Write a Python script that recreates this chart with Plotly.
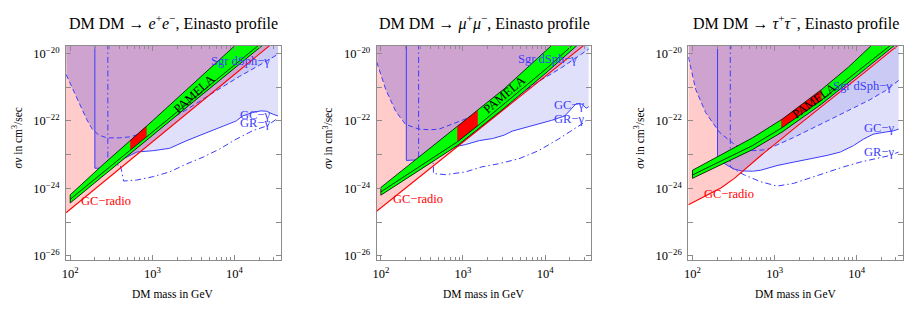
import numpy as np
import plotly.graph_objects as go

# ---------------- axis ranges (log10 units) ----------------
X_RANGE = [1.949, 4.564]          # DM mass, log10(GeV)
Y_RANGE = [-26.12, -19.78]        # log10(sigma v / cm^3 s^-1)
Y_CEIL = -19.3                    # everything above the frame is clipped

# ---------------- data (log10 GeV, log10 cm^3/s) ----------------
# --- DM DM -> e+ e- ---
E_RADIO_M = [1.949, 3.0, 4.44]
E_RADIO_SV = [-24.72, -22.62, -19.74]
E_BAND_UP_M = [2.0, 2.41, 3.0, 3.5, 4.0]
E_BAND_UP_SV = [-24.19, -23.27, -22.0, -20.9, -19.78]
E_BAND_MID_M = [2.0, 2.41, 3.0, 3.5, 4.28]
E_BAND_MID_SV = [-24.32, -23.5, -22.32, -21.32, -19.78]
E_BAND_LO_M = [2.0, 2.41, 3.0, 3.5, 4.33]
E_BAND_LO_SV = [-24.43, -23.62, -22.43, -21.43, -19.78]
E_BEST_M = [2.73, 2.93]
E_GC_M = [2.30, 2.45, 2.55, 2.65, 2.81, 3.01, 3.21, 3.42, 3.62, 3.82, 4.02, 4.10, 4.22, 4.32, 4.39, 4.47, 4.53]
E_GC_SV = [-23.40, -23.40, -23.30, -23.12, -22.92, -22.88, -22.81, -22.58, -22.39, -22.19, -22.00, -21.85, -21.75, -21.70, -21.71, -21.80, -21.85]
E_SGR_M = [1.95, 2.02, 2.11, 2.20, 2.27, 2.35, 2.45, 2.60, 2.73, 2.90, 3.10, 3.42, 3.70, 4.06, 4.30, 4.53]
E_SGR_SV = [-20.62, -21.0, -21.5, -21.95, -22.25, -22.42, -22.5, -22.5, -22.47, -22.35, -22.1, -21.66, -21.22, -20.68, -20.35, -20.02]
E_GR_M = [2.458, 2.61, 2.65, 2.81, 3.01, 3.21, 3.42, 3.62, 3.82, 4.02, 4.22, 4.39, 4.51]
E_GR_SV = [-23.30, -23.30, -23.78, -23.75, -23.65, -23.51, -23.27, -23.07, -22.83, -22.54, -22.29, -22.15, -21.95]

# --- DM DM -> mu+ mu- ---
MU_RADIO_M = [1.937, 3.0, 4.46]
MU_RADIO_SV = [-24.70, -22.63, -19.78]
MU_BAND_UP_M = [2.0, 2.5, 2.93, 3.18, 3.5, 4.07]
MU_BAND_UP_SV = [-23.97, -23.0, -22.16, -21.68, -21.05, -19.78]
MU_BAND_MID_M = [2.0, 2.5, 2.93, 3.18, 3.5, 4.0, 4.32]
MU_BAND_MID_SV = [-24.1, -23.3, -22.62, -22.14, -21.5, -20.48, -19.78]
MU_BAND_LO_M = [2.0, 2.5, 2.93, 3.5, 4.0, 4.38]
MU_BAND_LO_SV = [-24.2, -23.42, -22.73, -21.62, -20.6, -19.78]
MU_BEST_M = [2.93, 3.18]
MU_GC_M = [2.31, 2.45, 2.6, 2.75, 2.87, 3.03, 3.2, 3.36, 3.5, 3.6, 3.76, 3.92, 4.08, 4.24, 4.32, 4.38, 4.45, 4.5, 4.53]
MU_GC_SV = [-23.17, -23.15, -23.0, -22.9, -22.78, -22.7, -22.58, -22.52, -22.42, -22.3, -22.2, -22.1, -21.98, -21.85, -21.62, -21.48, -21.5, -21.62, -21.58]
MU_SGR_M = [1.95, 2.06, 2.18, 2.30, 2.46, 2.60, 2.71, 2.87, 3.0, 3.4, 3.74, 3.94, 4.2, 4.53]
MU_SGR_SV = [-20.25, -21.07, -21.71, -22.1, -22.24, -22.26, -22.24, -22.1, -21.97, -21.55, -21.12, -20.8, -20.42, -19.87]
MU_GR_M = [2.46, 2.64, 2.64, 2.79, 3.03, 3.23, 3.43, 3.68, 3.92, 4.16, 4.32, 4.44, 4.52]
MU_GR_SV = [-23.15, -23.25, -23.56, -23.59, -23.51, -23.36, -23.27, -23.12, -22.88, -22.54, -22.29, -22.1, -21.95]

# --- DM DM -> tau+ tau- ---
TAU_RADIO_M = [1.95, 2.14, 2.35, 2.51, 2.67, 2.83, 3.3, 3.7, 4.1, 4.49]
TAU_RADIO_SV = [-24.48, -24.24, -23.98, -23.70, -23.36, -23.03, -22.1, -21.33, -20.55, -19.78]
TAU_BAND_UP_M = [2.0, 2.33, 2.73, 3.09, 3.57, 3.9, 4.17]
TAU_BAND_UP_SV = [-23.46, -23.02, -22.5, -21.95, -21.07, -20.4, -19.78]
TAU_BAND_MID_M = [2.0, 2.33, 2.73, 3.09, 3.57, 3.94, 4.40]
TAU_BAND_MID_SV = [-23.6, -23.21, -22.73, -22.2, -21.38, -20.66, -19.78]
TAU_BAND_LO_M = [2.0, 2.33, 2.73, 3.09, 3.57, 3.94, 4.45]
TAU_BAND_LO_SV = [-23.70, -23.32, -22.85, -22.33, -21.50, -20.78, -19.78]
TAU_BEST_M = [3.08, 3.57]
TAU_GC_M = [2.305, 2.38, 2.5, 2.6, 2.73, 2.83, 3.03, 3.23, 3.44, 3.64, 3.80, 3.96, 4.08, 4.20, 4.32, 4.45, 4.51]
TAU_GC_SV = [-23.05, -23.25, -23.42, -23.48, -23.49, -23.46, -23.32, -23.22, -23.12, -23.02, -22.92, -22.73, -22.54, -22.39, -22.34, -22.29, -22.24]
TAU_SGR_M = [1.95, 2.04, 2.16, 2.33, 2.53, 2.73, 2.90, 3.23, 3.64, 3.96, 4.16, 4.35, 4.51]
TAU_SGR_SV = [-20.1, -21.07, -21.75, -22.34, -22.73, -22.88, -22.85, -22.49, -22.0, -21.61, -21.37, -21.1, -20.8]
TAU_GR_M = [2.46, 2.52, 2.63, 2.83, 3.03, 3.23, 3.44, 3.64, 3.84, 4.04, 4.24, 4.41, 4.51]
TAU_GR_SV = [-23.35, -23.45, -23.6, -23.8, -23.93, -23.85, -23.68, -23.51, -23.36, -23.22, -23.12, -23.02, -22.92]

TITLES = ["DM DM → <i>e</i><sup>+</sup><i>e</i><sup>−</sup>, Einasto profile",
          "DM DM → <i>μ</i><sup>+</sup><i>μ</i><sup>−</sup>, Einasto profile",
          "DM DM → <i>τ</i><sup>+</sup><i>τ</i><sup>−</sup>, Einasto profile"]

# label anchor positions (log10 units)
E_LABELS = {"sgr": (4.07, -20.22), "gc": (4.25, -21.83), "gr": (4.25, -22.05), "radio": (2.44, -24.37), "pamela": (3.51, -21.2, -42)}
MU_LABELS = {"sgr": (4.03, -20.15), "gc": (4.29, -21.54), "gr": (4.29, -21.93), "radio": (2.45, -24.32), "pamela": (3.50, -21.22, -40)}
TAU_LABELS = {"sgr": (4.07, -20.96), "gc": (4.27, -22.2), "gr": (4.27, -22.93), "radio": (2.45, -24.17), "pamela": (3.48, -21.4, -36)}

X_TICKS = [1e2, 1e3, 1e4]
X_TICKTEXT = ["10<sup>2</sup>", "10<sup>3</sup>", "10<sup>4</sup>"]
X_MINOR = [m * 10 ** d for d in (2, 3, 4) for m in range(2, 10) if m * 10 ** d < 10 ** X_RANGE[1]]
Y_TICKS = [1e-26, 1e-24, 1e-22, 1e-20]
Y_TICKTEXT = ["10<sup>−26</sup>", "10<sup>−24</sup>", "10<sup>−22</sup>", "10<sup>−20</sup>"]
Y_MINOR = [1e-25, 1e-23, 1e-21]

# ---------------- style ----------------
FONT = "Liberation Serif, Times New Roman, serif"
LIGHT_BLUE = "rgb(224,224,250)"
DARK_BLUE = "rgb(202,202,244)"
PINK = "rgb(255,203,203)"
PURPLE = "rgb(207,163,208)"
GREEN = "rgb(0,255,0)"
RED = "rgb(255,0,0)"
BLUE = "rgb(60,60,250)"
FRAME = "rgb(140,140,140)"

PANEL_LEFT = [62.3, 374.3, 687.3]
PANEL_W = 215.7
W, H = 917, 314
PLOT_TOP, PLOT_BOT = 45.7, 262.3

xs = np.linspace(X_RANGE[0], X_RANGE[1], 2600)


def extend_top(lx, ly):
    lx, ly = list(lx), list(ly)
    if ly[-1] < Y_CEIL:
        x0, x1, y0, y1 = lx[-2], lx[-1], ly[-2], ly[-1]
        lx.append(x1 + (Y_CEIL - y1) * (x1 - x0) / (y1 - y0))
        ly.append(Y_CEIL)
    return np.array(lx), np.array(ly)


def on_grid(lx, ly):
    return np.interp(xs, lx, ly, left=np.nan, right=np.nan)


def above(f):
    ff = np.where(np.isnan(f), Y_CEIL, np.minimum(f, Y_CEIL))
    px = np.concatenate([xs, xs[::-1]])
    py = np.concatenate([ff, np.full_like(xs, Y_CEIL)])
    return 10 ** px, 10 ** py


fig = go.Figure()
panels = [
    (E_RADIO_M, E_RADIO_SV, E_BAND_UP_M, E_BAND_UP_SV, E_BAND_MID_M, E_BAND_MID_SV, E_BAND_LO_M, E_BAND_LO_SV,
     E_BEST_M, E_GC_M, E_GC_SV, E_SGR_M, E_SGR_SV, E_GR_M, E_GR_SV, E_LABELS),
    (MU_RADIO_M, MU_RADIO_SV, MU_BAND_UP_M, MU_BAND_UP_SV, MU_BAND_MID_M, MU_BAND_MID_SV, MU_BAND_LO_M, MU_BAND_LO_SV,
     MU_BEST_M, MU_GC_M, MU_GC_SV, MU_SGR_M, MU_SGR_SV, MU_GR_M, MU_GR_SV, MU_LABELS),
    (TAU_RADIO_M, TAU_RADIO_SV, TAU_BAND_UP_M, TAU_BAND_UP_SV, TAU_BAND_MID_M, TAU_BAND_MID_SV, TAU_BAND_LO_M, TAU_BAND_LO_SV,
     TAU_BEST_M, TAU_GC_M, TAU_GC_SV, TAU_SGR_M, TAU_SGR_SV, TAU_GR_M, TAU_GR_SV, TAU_LABELS),
]

annotations = []
for i, p in enumerate(panels):
    (rm, rs, um, us, mm, ms, lm, ls, best, gcm, gcs, sgm, sgs, grm, grs, labels) = p
    xa = "x" if i == 0 else f"x{i+1}"
    ya = "y" if i == 0 else f"y{i+1}"
    common = dict(xaxis=xa, yaxis=ya, showlegend=False, hoverinfo="skip")

    red_x, red_y = extend_top(rm, rs)
    red_g = on_grid(red_x, red_y)
    red_g = np.where(np.isnan(red_g), Y_CEIL, red_g)
    gc_g = on_grid(gcm, gcs)
    sg_g = on_grid(sgm, sgs)
    union = np.fmin(gc_g, sg_g)
    both = np.where(~np.isnan(gc_g) & ~np.isnan(sg_g), np.maximum(gc_g, sg_g), np.nan)
    union_f = np.where(np.isnan(union), Y_CEIL, union)
    purple = np.maximum(red_g, union_f)

    for f, col in ((union, LIGHT_BLUE), (both, DARK_BLUE), (red_g, PINK), (purple, PURPLE)):
        px, py = above(f)
        fig.add_trace(go.Scatter(x=px, y=py, mode="lines", fill="toself", fillcolor=col,
                                 line=dict(width=0), **common))

    # blue exclusion curves
    gx = np.concatenate([[gcm[0]], gcm]); gy = np.concatenate([[Y_CEIL], gcs])
    fig.add_trace(go.Scatter(x=10 ** gx, y=10 ** gy, mode="lines",
                             line=dict(color=BLUE, width=1), **common))
    fig.add_trace(go.Scatter(x=10 ** np.array(sgm), y=10 ** np.array(sgs), mode="lines",
                             line=dict(color=BLUE, width=1, dash="5px,3px"), **common))
    rx = np.concatenate([[grm[0]], grm]); ry = np.concatenate([[Y_CEIL], grs])
    fig.add_trace(go.Scatter(x=10 ** rx, y=10 ** ry, mode="lines",
                             line=dict(color=BLUE, width=1, dash="6px,3px,1.5px,3px"), **common))

    # radio limit line
    fig.add_trace(go.Scatter(x=10 ** red_x, y=10 ** red_y, mode="lines",
                             line=dict(color=RED, width=1.1), **common))

    # PAMELA band
    ux, uy = extend_top(um, us)
    mx, my = extend_top(mm, ms)
    lx, ly = extend_top(lm, ls)
    bx = np.concatenate([ux, lx[::-1]]); by = np.concatenate([uy, ly[::-1]])
    fig.add_trace(go.Scatter(x=10 ** bx, y=10 ** by, mode="lines", fill="toself", fillcolor=GREEN,
                             line=dict(width=0), **common))
    xb = np.linspace(best[0], best[1], 60)
    ub = np.interp(xb, ux, uy); mb = np.interp(xb, mx, my)
    fig.add_trace(go.Scatter(x=10 ** np.concatenate([xb, xb[::-1]]), y=10 ** np.concatenate([ub, mb[::-1]]),
                             mode="lines", fill="toself", fillcolor=RED, line=dict(width=0), **common))
    ox = list(ux) + [None] + list(mx) + [None] + list(lx) + [None] + [lx[0], ux[0]]
    oy = list(uy) + [None] + list(my) + [None] + list(ly) + [None] + [ly[0], uy[0]]
    fig.add_trace(go.Scatter(x=[None if v is None else 10 ** v for v in ox],
                             y=[None if v is None else 10 ** v for v in oy], mode="lines",
                             line=dict(color="black", width=0.8), connectgaps=False, **common))

    # labels
    lf = dict(family=FONT, size=12.5)
    for key, txt, col in (("sgr", "Sgr dSph−γ", BLUE), ("gc", "GC−γ", BLUE), ("gr", "GR−γ", BLUE),
                          ("radio", "GC−radio", RED)):
        lxp, lyp = labels[key]
        annotations.append(dict(x=lxp, y=lyp, xref=xa, yref=ya, text=txt, showarrow=False,
                                font=dict(lf, color=col), xanchor="center", yanchor="middle"))
    lxp, lyp, ang = labels["pamela"]
    annotations.append(dict(x=lxp, y=lyp, xref=xa, yref=ya, text="PAMELA", showarrow=False,
                            textangle=ang, font=dict(family=FONT, size=12.5, color="black"),
                            xanchor="center", yanchor="middle"))

    # titles and axis titles
    left = PANEL_LEFT[i]
    cx = (left + PANEL_W / 2) / W
    annotations.append(dict(x=cx, y=1 - 21.7 / H, xref="paper", yref="paper", text=TITLES[i],
                            showarrow=False, font=dict(family=FONT, size=16, color="black"),
                            xanchor="center", yanchor="middle"))
    annotations.append(dict(x=cx, y=1 - 297 / H, xref="paper", yref="paper", text="DM mass in GeV",
                            showarrow=False, font=dict(family=FONT, size=11.5, color="black"),
                            xanchor="center", yanchor="middle"))
    annotations.append(dict(x=(left - 49) / W, y=1 - 139 / H, xref="paper", yref="paper",
                            text="<i>σv</i> in cm<sup>3</sup>/sec", textangle=-90, showarrow=False,
                            font=dict(family=FONT, size=11.5, color="black"),
                            xanchor="center", yanchor="middle"))

    dom_x = [left / W, (left + PANEL_W) / W]
    dom_y = [1 - PLOT_BOT / H, 1 - PLOT_TOP / H]
    xkey = "xaxis" if i == 0 else f"xaxis{i+1}"
    ykey = "yaxis" if i == 0 else f"yaxis{i+1}"
    fig.layout[xkey] = dict(type="log", range=X_RANGE, domain=dom_x, anchor=ya, showgrid=False, zeroline=False,
                            showline=True, linecolor=FRAME, linewidth=1, mirror="ticks", ticks="inside",
                            ticklen=5, tickcolor=FRAME, tickvals=X_TICKS, ticktext=X_TICKTEXT,
                            ticklabelstandoff=2,
                            tickfont=dict(family=FONT, size=12.5, color="black"),
                            minor=dict(tickvals=X_MINOR, ticks="inside", ticklen=3, tickcolor=FRAME, showgrid=False))
    fig.layout[ykey] = dict(type="log", range=Y_RANGE, domain=dom_y, anchor=xa, showgrid=False, zeroline=False,
                            showline=True, linecolor=FRAME, linewidth=1, mirror="ticks", ticks="inside",
                            ticklen=5, tickcolor=FRAME, tickvals=Y_TICKS, ticktext=Y_TICKTEXT,
                            ticklabelstandoff=3,
                            tickfont=dict(family=FONT, size=12.5, color="black"),
                            minor=dict(tickvals=Y_MINOR, ticks="inside", ticklen=5, tickcolor=FRAME, showgrid=False))

fig.update_layout(width=W, height=H, margin=dict(l=0, r=0, t=0, b=0), autosize=False,
                  paper_bgcolor="white", plot_bgcolor="white", annotations=annotations)
fig.write_html("out.html", config={"displayModeBar": False, "staticPlot": True},
               post_script="document.body.style.margin='0px';document.body.style.padding='0px';")
